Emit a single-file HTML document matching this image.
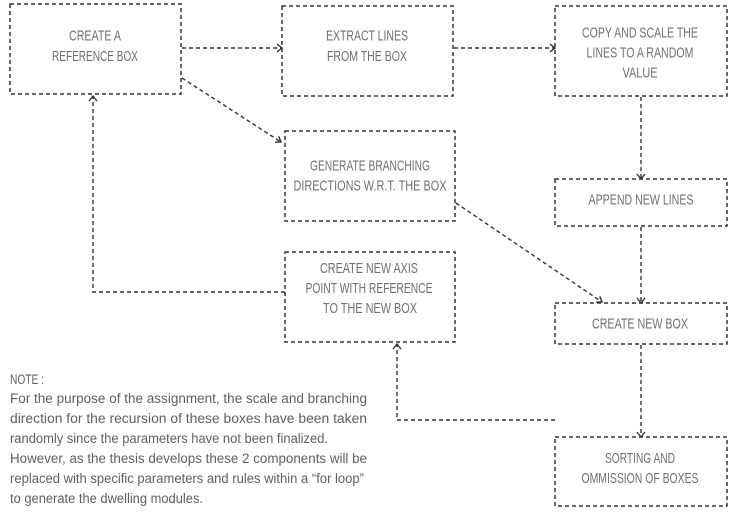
<!DOCTYPE html>
<html><head><meta charset="utf-8"><style>
html,body{margin:0;padding:0;background:#fff;}
svg{display:block;}
.b{fill:none;stroke:#333;stroke-width:1.5;stroke-dasharray:4 3;}
.l{fill:none;stroke:#333;stroke-width:1.4;stroke-dasharray:4 3;}
.a{fill:none;stroke:#333;stroke-width:1.4;}
.t{font-family:"Liberation Sans Narrow","Liberation Sans",sans-serif;font-size:15px;fill:#707070;text-anchor:middle;}
.n{font-family:"Liberation Sans Narrow","Liberation Sans",sans-serif;font-size:13.5px;fill:#606060;}
</style></head><body>
<svg width="730" height="520" viewBox="0 0 730 520" xmlns="http://www.w3.org/2000/svg">
<rect x="0" y="0" width="730" height="520" fill="#fff"/>
<!-- boxes -->
<rect class="b" x="10" y="4" width="171" height="90"/>
<rect class="b" x="282" y="6" width="171" height="90"/>
<rect class="b" x="555" y="6" width="172" height="90"/>
<rect class="b" x="285" y="131" width="170" height="90"/>
<rect class="b" x="555" y="179" width="172" height="47"/>
<rect class="b" x="285" y="252" width="170" height="90"/>
<rect class="b" x="555" y="303" width="172" height="41"/>
<rect class="b" x="555" y="437" width="172" height="69"/>
<!-- connectors -->
<line class="l" x1="182" y1="48" x2="281" y2="48"/>
<polyline class="a" points="277,44 282,48 277,52"/>
<line class="l" x1="454" y1="48" x2="554" y2="48"/>
<polyline class="a" points="550,44 555,48 550,52"/>
<line class="l" x1="182" y1="78" x2="281" y2="142"/>
<polyline class="a" points="278.7,136.4 281,142 275,142.2"/>
<line class="l" x1="641" y1="97" x2="641" y2="178"/>
<polyline class="a" points="637,174 641,179 645,174"/>
<line class="l" x1="641" y1="227" x2="641" y2="302"/>
<polyline class="a" points="637,298 641,303 645,298"/>
<line class="l" x1="456" y1="203" x2="602" y2="302"/>
<polyline class="a" points="599.8,296.4 602,302 596,302.1"/>
<line class="l" x1="641" y1="345" x2="641" y2="436"/>
<polyline class="a" points="637,432 641,437 645,432"/>
<polyline class="l" points="285,292 93,292 93,97"/>
<polyline class="a" points="89,101 93,96 97,101"/>
<polyline class="l" points="555,420 397,420 397,345"/>
<polyline class="a" points="393,349 397,344 401,349"/>
<!-- labels -->
<text class="t" x="95" y="40.5" textLength="52" lengthAdjust="spacingAndGlyphs">CREATE A</text>
<text class="t" x="95" y="61" textLength="86" lengthAdjust="spacingAndGlyphs">REFERENCE BOX</text>
<text class="t" x="367" y="40.5" textLength="82" lengthAdjust="spacingAndGlyphs">EXTRACT LINES</text>
<text class="t" x="367" y="61" textLength="80" lengthAdjust="spacingAndGlyphs">FROM THE BOX</text>
<text class="t" x="640" y="37.5" textLength="116" lengthAdjust="spacingAndGlyphs">COPY AND SCALE THE</text>
<text class="t" x="640" y="57.5" textLength="107" lengthAdjust="spacingAndGlyphs">LINES TO A RANDOM</text>
<text class="t" x="640" y="77.5" textLength="35" lengthAdjust="spacingAndGlyphs">VALUE</text>
<text class="t" x="370" y="170.5" textLength="120" lengthAdjust="spacingAndGlyphs">GENERATE BRANCHING</text>
<text class="t" x="370" y="190.5" textLength="153" lengthAdjust="spacingAndGlyphs">DIRECTIONS W.R.T. THE BOX</text>
<text class="t" x="641" y="204.5" textLength="105" lengthAdjust="spacingAndGlyphs">APPEND NEW LINES</text>
<text class="t" x="369" y="273" textLength="98" lengthAdjust="spacingAndGlyphs">CREATE NEW AXIS</text>
<text class="t" x="369" y="293" textLength="127" lengthAdjust="spacingAndGlyphs">POINT WITH REFERENCE</text>
<text class="t" x="370" y="313" textLength="94" lengthAdjust="spacingAndGlyphs">TO THE NEW BOX</text>
<text class="t" x="640" y="328.5" textLength="96" lengthAdjust="spacingAndGlyphs">CREATE NEW BOX</text>
<text class="t" x="640" y="463" textLength="70" lengthAdjust="spacingAndGlyphs">SORTING AND</text>
<text class="t" x="640" y="483" textLength="117" lengthAdjust="spacingAndGlyphs">OMMISSION OF BOXES</text>
<!-- note -->
<text class="n" x="10" y="384" textLength="34" lengthAdjust="spacingAndGlyphs">NOTE :</text>
<text class="n" x="10" y="403" textLength="357" lengthAdjust="spacingAndGlyphs">For the purpose of the assignment, the scale and branching</text>
<text class="n" x="10" y="423" textLength="357" lengthAdjust="spacingAndGlyphs">direction for the recursion of these boxes have been taken</text>
<text class="n" x="10" y="443" textLength="318" lengthAdjust="spacingAndGlyphs">randomly since the parameters have not been finalized.</text>
<text class="n" x="10" y="463" textLength="357" lengthAdjust="spacingAndGlyphs">However, as the thesis develops these 2 components will be</text>
<text class="n" x="10" y="483" textLength="354" lengthAdjust="spacingAndGlyphs">replaced with specific parameters and rules within a “for loop”</text>
<text class="n" x="10" y="503" textLength="193" lengthAdjust="spacingAndGlyphs">to generate the dwelling modules.</text>
</svg>
</body></html>
